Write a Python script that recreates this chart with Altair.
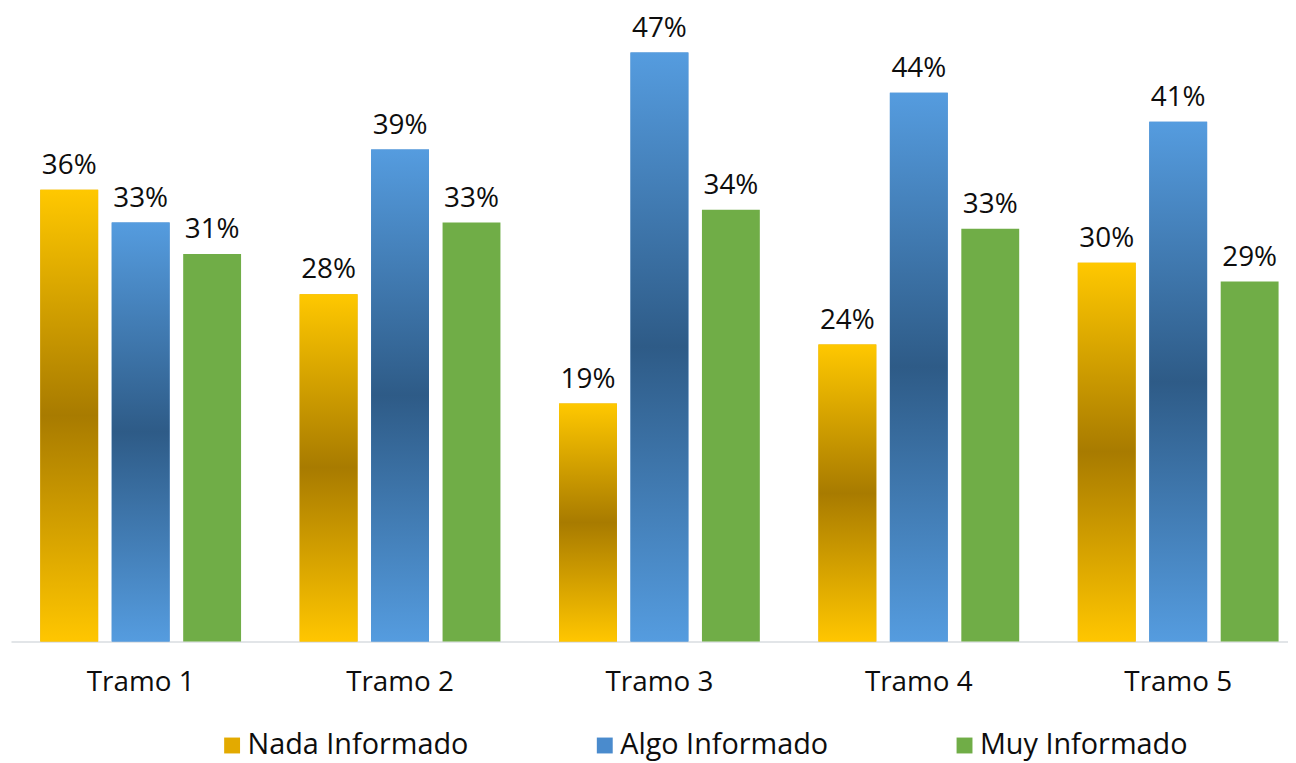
import altair as alt
import pandas as pd

tramos = ["Tramo 1", "Tramo 2", "Tramo 3", "Tramo 4", "Tramo 5"]
series = ["Nada Informado", "Algo Informado", "Muy Informado"]
nada = [35.9, 27.6, 18.9, 23.6, 30.1]
algo = [33.3, 39.1, 46.8, 43.6, 41.3]
muy = [30.8, 33.3, 34.3, 32.8, 28.6]
flat_colors = ["#E3AA00", "#4A8BCD", "#70AD47"]

rows = []
for s, vals in zip(series, [nada, algo, muy]):
    for t, v in zip(tramos, vals):
        rows.append({"tramo": t, "serie": s, "valor": v / 100})
df = pd.DataFrame(rows)

FONT = "Open Sans"

x_enc = alt.X("tramo:N", sort=tramos,
              scale=alt.Scale(domain=tramos, range=[3, 1308], paddingInner=0, paddingOuter=0),
              axis=alt.Axis(title=None, ticks=False, tickSize=0, labelAngle=0,
                            labelPadding=49, labelBaseline="alphabetic",
                            labelFontSize=28, labelFont=FONT, labelColor="#0D0D0D",
                            domainColor="#D9DDE1", domainWidth=1.5, grid=False))
xo_enc = alt.XOffset("serie:N", sort=series,
                     scale=alt.Scale(domain=series, paddingInner=0.19, paddingOuter=0.41))
y_enc = alt.Y("valor:Q", scale=alt.Scale(domain=[0, 0.5], nice=False, zero=True), axis=None)

base = alt.Chart(df)

bars = base.mark_bar().encode(
    x=x_enc, xOffset=xo_enc, y=y_enc,
    color=alt.Color("serie:N", sort=series,
                    scale=alt.Scale(domain=series, range=flat_colors),
                    legend=alt.Legend(title=None, orient="none", direction="horizontal",
                                      legendX=211, legendY=723,
                                      symbolType="square", symbolSize=256,
                                      symbolStrokeWidth=0, symbolOffset=0,
                                      labelFont=FONT, labelFontSize=29, labelColor="#0D0D0D",
                                      labelOffset=1, columnPadding=122, labelLimit=400)),
)

yellow_grad = {"gradient": "linear", "x1": 0, "y1": 0, "x2": 0, "y2": 1,
               "stops": [{"offset": 0, "color": "#FFC800"},
                         {"offset": 0.5, "color": "#A87B00"},
                         {"offset": 1, "color": "#FFC600"}]}
blue_grad = {"gradient": "linear", "x1": 0, "y1": 0, "x2": 0, "y2": 1,
             "stops": [{"offset": 0, "color": "#559CDF"},
                       {"offset": 0.5, "color": "#2E5B87"},
                       {"offset": 1, "color": "#559CDF"}]}

yellow = base.transform_filter(alt.datum.serie == series[0]).mark_bar(fill=yellow_grad).encode(
    x=x_enc, xOffset=xo_enc, y=y_enc)
blue = base.transform_filter(alt.datum.serie == series[1]).mark_bar(fill=blue_grad).encode(
    x=x_enc, xOffset=xo_enc, y=y_enc)

labels = base.mark_text(font=FONT, fontSize=28, color="#0D0D0D", baseline="alphabetic",
                        dy=-16).encode(
    x=x_enc, xOffset=xo_enc, y=y_enc,
    text=alt.Text("valor:Q", format=".0%"))

chart = alt.layer(bars, yellow, blue, labels).properties(
    width=1288, height=633,
    background="white",
    autosize=alt.AutoSizeParams(type="none"),
    padding={"left": 0, "top": 2, "right": 0, "bottom": 120},
).configure_view(stroke=None)

chart.save("out.html", embed_options={"renderer": "svg", "actions": False})
